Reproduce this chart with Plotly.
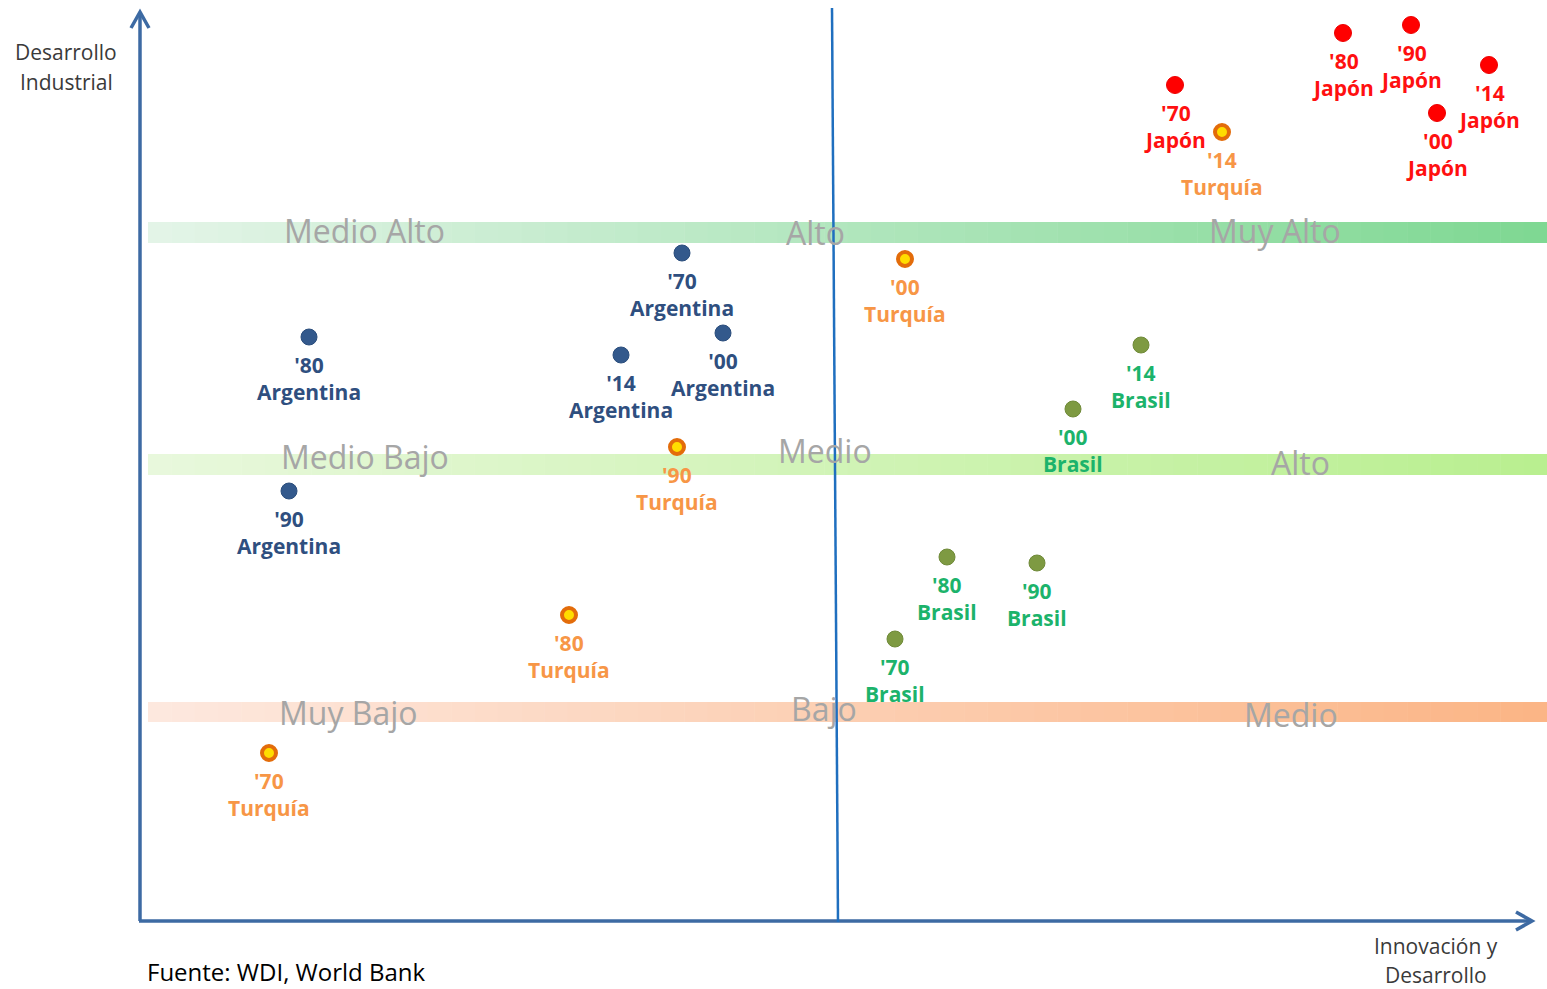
import plotly.graph_objects as go

# ---- data (in the chart's own pixel-like units) ----
decades = ["'70", "'80", "'90", "'00", "'14"]

arg_x = [682, 309, 289, 723, 621]
arg_y = [253, 337, 491, 333, 355]

tur_x = [269, 569, 677, 905, 1222]
tur_y = [753, 615, 447, 259, 132]

bra_x = [895, 947, 1037, 1073, 1141]
bra_y = [639, 557, 563, 409, 345]

jap_x = [1175, 1343, 1411, 1437, 1489]
jap_y = [85, 33, 25, 113, 65]

band_labels_left = ["Medio Alto", "Medio Bajo", "Muy Bajo"]
band_labels_mid = ["Alto", "Medio", "Bajo"]
band_labels_right = ["Muy Alto", "Alto", "Medio"]

W, H = 1547, 989
FONT = "Open Sans"

fig = go.Figure()

# ---- gradient bands ----
bands = [
    (222, 243, (227, 244, 231), (127, 216, 147)),
    (454, 475, (232, 248, 220), (185, 239, 144)),
    (702, 722, (253, 232, 222), (251, 181, 134)),
]
x0b, x1b = 148, W
nseg = 60
shapes = []
for (ya, yb, c0, c1) in bands:
    for i in range(nseg):
        t = i / (nseg - 1)
        c = tuple(int(round(c0[k] + (c1[k] - c0[k]) * t)) for k in range(3))
        xa = x0b + (x1b - x0b) * i / nseg
        xb = x0b + (x1b - x0b) * (i + 1) / nseg + 0.5
        shapes.append(dict(type="rect", xref="x", yref="y", x0=xa, x1=xb, y0=ya, y1=yb,
                           fillcolor="rgb(%d,%d,%d)" % c, line=dict(width=0), layer="below"))

axis_col = "#3d6aa3"
shapes.append(dict(type="line", xref="x", yref="y", x0=140, y0=921, x1=140, y1=12,
                   line=dict(color=axis_col, width=3.5)))
shapes.append(dict(type="line", xref="x", yref="y", x0=139, y0=921, x1=1532, y1=921,
                   line=dict(color=axis_col, width=3.5)))
shapes.append(dict(type="path", xref="x", yref="y", path="M 131,28 L 140,12 L 149,28",
                   line=dict(color=axis_col, width=3.5)))
shapes.append(dict(type="path", xref="x", yref="y", path="M 1516,912 L 1532,921 L 1516,930",
                   line=dict(color=axis_col, width=3.5)))
shapes.append(dict(type="line", xref="x", yref="y", x0=832, y0=8, x1=838, y1=922,
                   line=dict(color="#1f6fbf", width=2.5)))

annotations = []
band_y_pos = [[230, 456, 712], [232, 450, 708], [230, 462, 714]]
band_x_pos = [[364, 365, 348], [815, 825, 824], [1275, 1300, 1291]]
for col, labels in enumerate([band_labels_left, band_labels_mid, band_labels_right]):
    for r, lab in enumerate(labels):
        annotations.append(dict(x=band_x_pos[col][r], y=band_y_pos[col][r], text=lab,
                                showarrow=False, xref="x", yref="y",
                                font=dict(family=FONT, size=32, color="#a6a6a6")))

title_font = dict(family=FONT, size=21, color="#3a3a3a")
for txt, xx, yy in [("Desarrollo", 66, 52), ("Industrial", 66, 82),
                    ("Innovación y", 1436, 946), ("Desarrollo", 1436, 975)]:
    annotations.append(dict(x=xx, y=yy, text=txt, showarrow=False, xref="x", yref="y",
                            font=title_font))
annotations.append(dict(x=145, y=971, text="Fuente: WDI, World Bank", showarrow=False,
                        xref="x", yref="y", xanchor="left",
                        font=dict(family=FONT, size=24, color="#000000")))


def add_country(xs, ys, name, mcolor, mline, msize, tcolor):
    fig.add_trace(go.Scatter(
        x=xs, y=ys, mode="markers",
        marker=dict(size=msize, color=mcolor, line=mline),
        showlegend=False, cliponaxis=False, hoverinfo="skip"))
    for xv, yv, d in zip(xs, ys, decades):
        annotations.append(dict(
            x=xv, y=yv, xref="x", yref="y", showarrow=False,
            text="%s<br>%s" % (d, name), xanchor="center", yanchor="top", yshift=-12,
            font=dict(family=FONT, size=21, color=tcolor, weight="bold")))


add_country(arg_x, arg_y, "Argentina", "#33598c", dict(color="#2a4d7c", width=1), 16, "#2f4f7f")
add_country(tur_x, tur_y, "Turquía", "#ffdd00", dict(color="#e36c0a", width=4), 14, "#f79646")
add_country(bra_x, bra_y, "Brasil", "#7e9a42", dict(color="#6f8a38", width=1), 16, "#1cb36b")
add_country(jap_x, jap_y, "Japón", "#ff0000", dict(color="#ee0000", width=1), 17, "#ff1010")

fig.update_layout(
    width=W, height=H, margin=dict(l=0, r=0, t=0, b=0),
    paper_bgcolor="white", plot_bgcolor="white",
    xaxis=dict(range=[0, W], visible=False, fixedrange=True),
    yaxis=dict(range=[H, 0], visible=False, fixedrange=True),
    shapes=shapes, annotations=annotations,
)

fig.write_html(
    "out.html",
    config={"displayModeBar": False},
    post_script="document.body.style.margin='0';document.body.style.overflow='hidden';",
)
